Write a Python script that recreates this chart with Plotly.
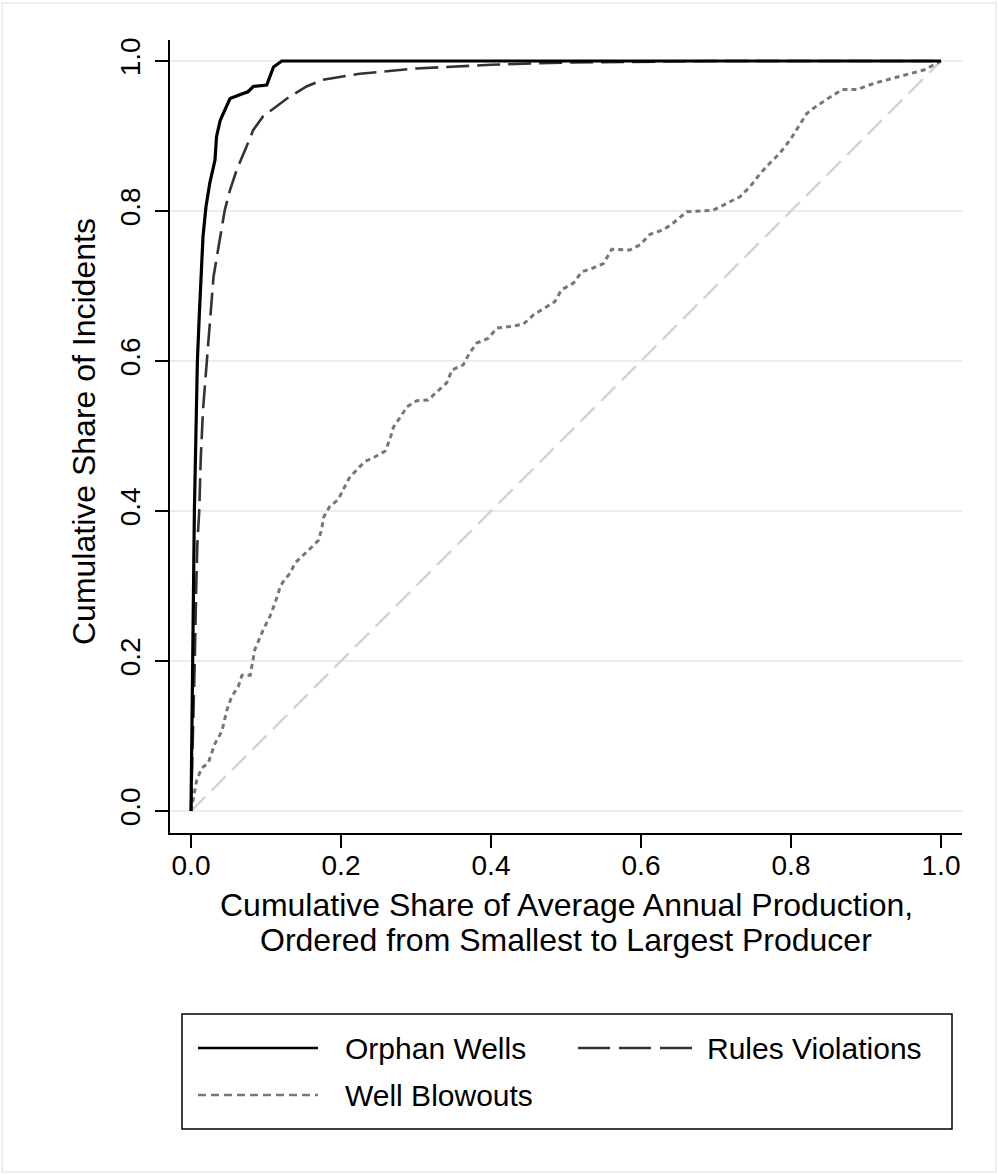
import plotly.graph_objects as go

# ---------------- data ----------------
orphan_x = [0.0, 0.001, 0.002, 0.003, 0.0045, 0.0065, 0.0085, 0.011, 0.013, 0.016, 0.020, 0.025,
            0.032, 0.034, 0.039, 0.045, 0.052, 0.065, 0.076, 0.083, 0.101, 0.110, 0.121, 1.0]
orphan_y = [0.0, 0.10, 0.20, 0.35, 0.40, 0.50, 0.60, 0.66, 0.71, 0.766, 0.806, 0.837,
            0.868, 0.899, 0.921, 0.935, 0.950, 0.955, 0.959, 0.966, 0.968, 0.992, 1.0, 1.0]

rules_x = [0.0, 0.003, 0.005, 0.007, 0.0085, 0.011, 0.013, 0.016, 0.021, 0.024, 0.030, 0.036,
           0.039, 0.045, 0.052, 0.061, 0.072, 0.083, 0.096, 0.128, 0.154, 0.176, 0.225,
           0.30, 0.40, 0.50, 0.70, 1.0]
rules_y = [0.0, 0.10, 0.20, 0.30, 0.357, 0.40, 0.47, 0.535, 0.60, 0.646, 0.712, 0.748,
           0.766, 0.801, 0.828, 0.855, 0.881, 0.908, 0.926, 0.950, 0.966, 0.975, 0.983,
           0.990, 0.995, 0.998, 1.0, 1.0]

blowouts_x = [0.0, 0.0076, 0.014, 0.023, 0.032, 0.041, 0.048, 0.054, 0.063, 0.068, 0.079, 0.085,
              0.096, 0.105, 0.112, 0.119, 0.123, 0.132, 0.139, 0.150, 0.159, 0.170, 0.174, 0.177,
              0.185, 0.196, 0.203, 0.211, 0.221, 0.232, 0.245, 0.259, 0.265, 0.270, 0.279, 0.288,
              0.301, 0.316, 0.328, 0.341, 0.348, 0.363, 0.371, 0.381, 0.396, 0.408, 0.425, 0.443,
              0.456, 0.470, 0.485, 0.494, 0.510, 0.521, 0.536, 0.550, 0.561, 0.585, 0.599, 0.612,
              0.630, 0.643, 0.661, 0.696, 0.714, 0.732, 0.745, 0.759, 0.772, 0.785, 0.799, 0.810,
              0.821, 0.834, 0.852, 0.868, 0.888, 0.910, 0.932, 0.959, 0.977, 1.0]
blowouts_y = [0.0, 0.041, 0.057, 0.064, 0.090, 0.106, 0.135, 0.152, 0.166, 0.181, 0.181, 0.215,
              0.241, 0.259, 0.277, 0.299, 0.306, 0.317, 0.331, 0.341, 0.350, 0.361, 0.375, 0.392,
              0.406, 0.415, 0.428, 0.444, 0.455, 0.466, 0.472, 0.480, 0.495, 0.512, 0.525, 0.539,
              0.547, 0.548, 0.559, 0.571, 0.588, 0.595, 0.610, 0.624, 0.630, 0.644, 0.646, 0.649,
              0.661, 0.670, 0.679, 0.695, 0.704, 0.719, 0.724, 0.730, 0.749, 0.748, 0.755, 0.769,
              0.775, 0.784, 0.799, 0.801, 0.810, 0.819, 0.832, 0.850, 0.864, 0.877, 0.895, 0.912,
              0.930, 0.940, 0.952, 0.962, 0.962, 0.970, 0.976, 0.983, 0.988, 1.0]

equality_x = [0.0, 1.0]
equality_y = [0.0, 1.0]

tick_vals = [0.0, 0.2, 0.4, 0.6, 0.8, 1.0]
tick_text = ["0.0", "0.2", "0.4", "0.6", "0.8", "1.0"]

series_names = ["Orphan Wells", "Rules Violations", "Well Blowouts"]
x_title_lines = ["Cumulative Share of Average Annual Production,",
                 "Ordered from Smallest to Largest Producer"]
y_title = "Cumulative Share of Incidents"

# ---------------- layout geometry ----------------
W, H = 998, 1175
ML, MR, MT, MB = 170, 36, 40, 342
PW, PH = W - ML - MR, H - MT - MB
FONT = "Liberation Sans, Arial, Helvetica, sans-serif"


def px(xp):
    return (xp - ML) / PW


def py(yp):
    return (H - MB - yp) / PH


styles = {
    "Orphan Wells": dict(color="black", width=3.2, dash="solid"),
    "Rules Violations": dict(color="#333333", width=2.6, dash="23px,8px"),
    "Well Blowouts": dict(color="#777777", width=3, dash="5px,4px"),
}
legend_dash = {
    "Orphan Wells": "solid",
    "Rules Violations": "32px,9px",
    "Well Blowouts": "8px,5px",
}

fig = go.Figure()
fig.add_trace(go.Scatter(x=equality_x, y=equality_y, mode="lines", showlegend=False,
                         line=dict(color="#d4d4d4", width=2.5, dash="20px,9px"), hoverinfo="skip"))
fig.add_trace(go.Scatter(x=blowouts_x, y=blowouts_y, mode="lines", name=series_names[2],
                         line=styles["Well Blowouts"], showlegend=False))
fig.add_trace(go.Scatter(x=rules_x, y=rules_y, mode="lines", name=series_names[1],
                         line=styles["Rules Violations"], showlegend=False))
fig.add_trace(go.Scatter(x=orphan_x, y=orphan_y, mode="lines", name=series_names[0],
                         line=styles["Orphan Wells"], showlegend=False))

axis_common = dict(
    tickvals=tick_vals, ticktext=tick_text, ticks="outside", ticklen=13, tickwidth=1.5,
    tickcolor="black", showline=True, linecolor="black", linewidth=1.5, zeroline=False,
    tickfont=dict(family=FONT, size=28, color="black"), mirror=False, fixedrange=True,
)

fig.update_layout(
    width=W, height=H,
    margin=dict(l=ML, r=MR, t=MT, b=MB, autoexpand=False),
    paper_bgcolor="white", plot_bgcolor="white",
    showlegend=False,
    xaxis=dict(range=[-0.028, 1.028], showgrid=False, ticklabelstandoff=-6, **axis_common),
    yaxis=dict(range=[-0.0293, 1.028], showgrid=True, gridcolor="#e6eef0", gridwidth=1.5,
               tickangle=-90, ticklabelstandoff=4, **axis_common),
)

shapes = []
annotations = []
# outer frame
shapes.append(dict(type="rect", xref="paper", yref="paper", x0=px(2), x1=px(996), y0=py(1172), y1=py(3),
                   line=dict(color="#e3eaed", width=1.5), layer="below"))
# legend box
shapes.append(dict(type="rect", xref="paper", yref="paper", x0=px(182), x1=px(952), y0=py(1129), y1=py(1014),
                   line=dict(color="black", width=1.5), fillcolor="white"))
legend_items = [
    (series_names[0], 198, 318, 343, 1048),
    (series_names[1], 578, 692, 705, 1048),
    (series_names[2], 198, 318, 343, 1095),
]
for name, sx0, sx1, tx, yy in legend_items:
    st = styles[name]
    shapes.append(dict(type="line", xref="paper", yref="paper", x0=px(sx0), x1=px(sx1), y0=py(yy), y1=py(yy),
                       line=dict(color=st["color"], width=2.6, dash=legend_dash[name])))
    annotations.append(dict(xref="paper", yref="paper", x=px(tx), y=py(yy), text=name, showarrow=False,
                            xanchor="left", yanchor="middle", font=dict(family=FONT, size=30, color="black")))

# axis titles
annotations.append(dict(xref="paper", yref="paper", x=px(566), y=py(905), text=x_title_lines[0],
                        showarrow=False, xanchor="center", yanchor="middle",
                        font=dict(family=FONT, size=32, color="black")))
annotations.append(dict(xref="paper", yref="paper", x=px(566), y=py(940), text=x_title_lines[1],
                        showarrow=False, xanchor="center", yanchor="middle",
                        font=dict(family=FONT, size=32, color="black")))
annotations.append(dict(xref="paper", yref="paper", x=px(84), y=py(432), text=y_title, textangle=-90,
                        showarrow=False, xanchor="center", yanchor="middle",
                        font=dict(family=FONT, size=32, color="black")))

fig.update_layout(shapes=shapes, annotations=annotations)
fig.write_html("out.html", config={"displayModeBar": False},
               post_script="document.body.style.margin='0';document.body.style.padding='0';")
